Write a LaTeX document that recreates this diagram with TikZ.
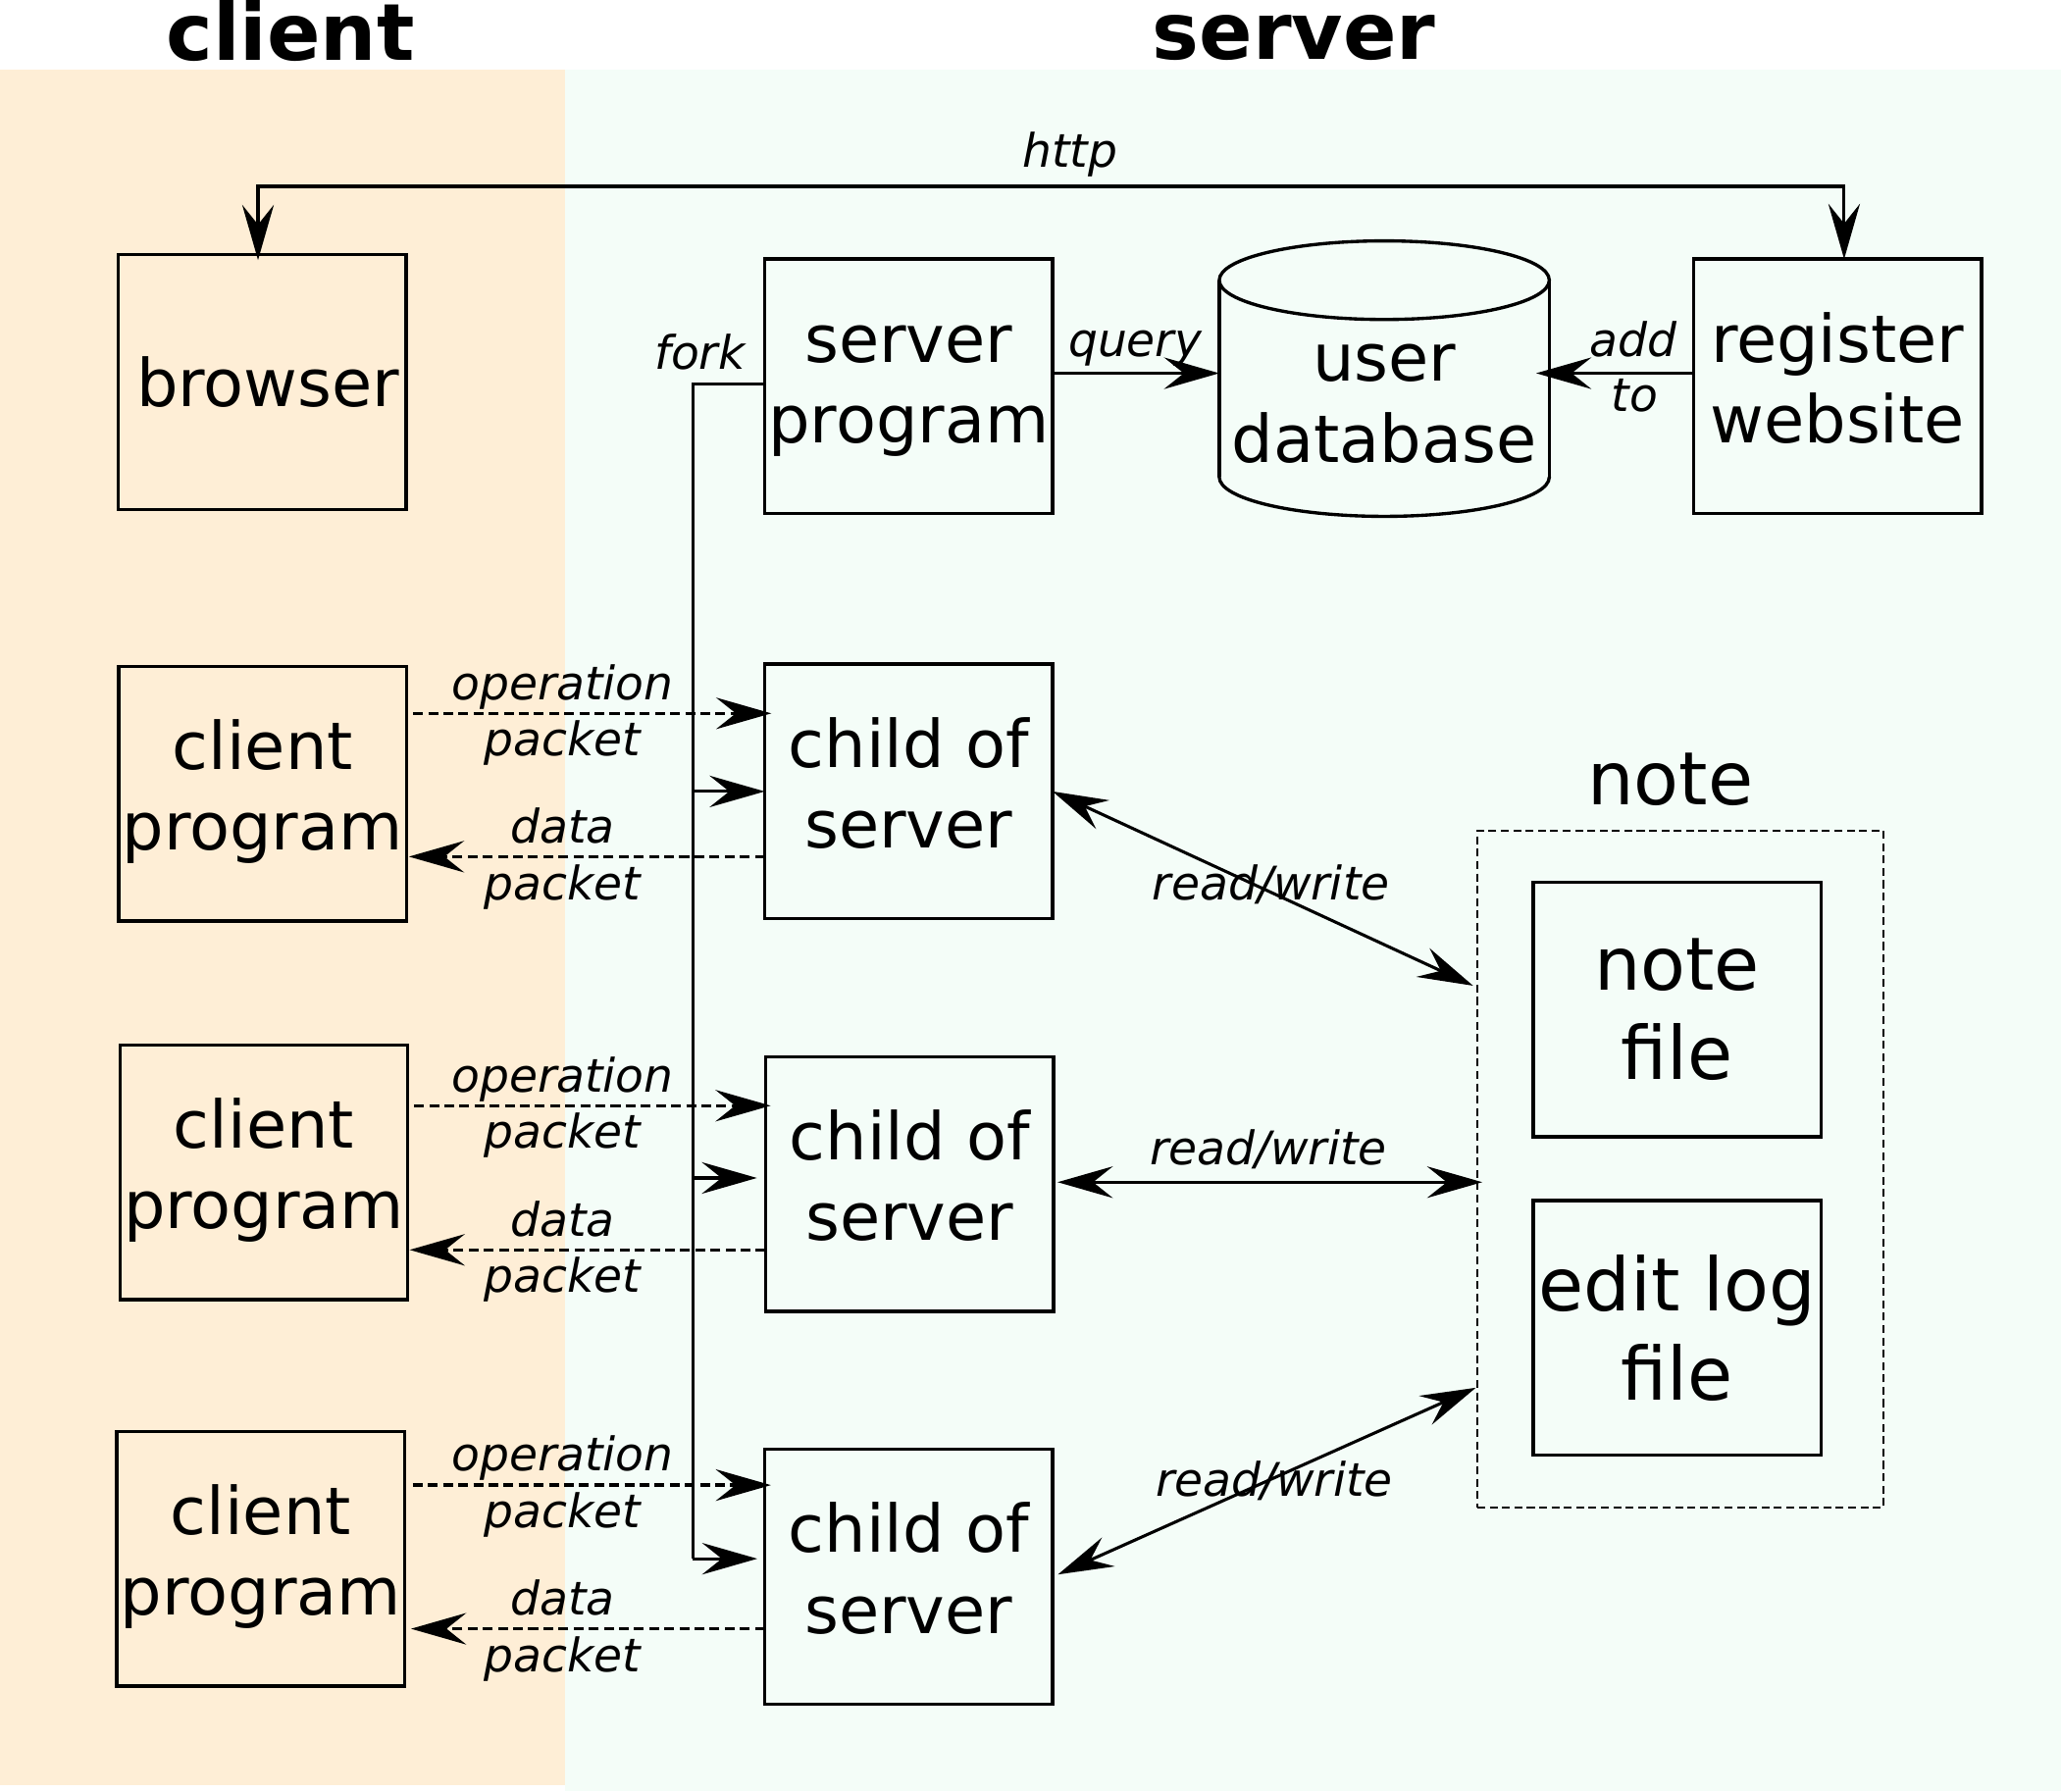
\documentclass[tikz,border=0pt]{standalone}
\usepackage{fontspec}
\setmainfont{DejaVu Sans}
\usetikzlibrary{arrows.meta,calc}
\definecolor{clientbg}{HTML}{FEEED6}
\definecolor{serverbg}{HTML}{F4FDF8}
\tikzset{
  box/.style={draw, line width=1.25pt, rectangle, inner sep=0pt, outer sep=0pt,
    minimum width=109.5pt, minimum height=96.9pt, align=center,
    font=\fontsize{25}{30.75}\selectfont},
  notebox/.style={box, font=\fontsize{28}{33.75}\selectfont},
  dbtext/.style={inner sep=0pt, align=center, font=\fontsize{25}{30.75}\selectfont},
  bigtext/.style={inner sep=0pt, anchor=base, font=\fontsize{28}{33.75}\selectfont},
  lbl/.style={inner sep=0pt, anchor=base, font=\fontsize{17.6}{21}\selectfont\itshape},
  title/.style={inner sep=0pt, anchor=base, font=\fontsize{30}{36}\selectfont\bfseries},
  conn/.style={line width=1.15pt},
  dconn/.style={line width=1.25pt, dash pattern=on 3.75pt off 2pt},
  groupbox/.style={draw, line width=0.85pt, dash pattern=on 3pt off 1.7pt, rectangle,
    inner sep=0pt, outer sep=0pt, minimum width=154.5pt, minimum height=257.5pt},
}
\begin{document}
\begin{tikzpicture}[x=0.5pt,y=-0.5pt,>={Stealth[length=21pt,width=12pt,inset=7.5pt]}]
\useasboundingbox (0,0) rectangle (1568,1362.8);
\fill[clientbg] (0,53) rectangle (430,1358);
\fill[serverbg] (430,53) rectangle (1568,1362.8);

% titles
\node[title] (tclient) at (221,45.9) {client};
\node[title] (tserver) at (984.5,45.3) {server};

% top row
\node[box] (browser) at (199.5,290.8) {\hspace*{4.5pt}browser};
\node[box] (sp) at (691.35,294) {\strut server\\\strut program};
\node[box] (reg) at (1398,294) {\strut register\\\strut website};

% user database cylinder
\draw[conn,line width=1.25pt] (1053.15,213.2) ellipse [x radius=125.55, y radius=29.9];
\draw[conn,line width=1.25pt] (927.6,213.2) -- (927.6,363);
\draw[conn,line width=1.25pt] (1178.7,213.2) -- (1178.7,363);
\begin{scope}
  \clip (900,363) rectangle (1210,410);
  \draw[conn,line width=1.25pt] (1053.15,363) ellipse [x radius=125.55, y radius=29.9];
\end{scope}
\node[dbtext] (db) at (1053.15,307.2) {user\\database};
\coordinate (dbw) at (927.6,284);
\coordinate (dbe) at (1178.7,284);

% client programs and children
\node[box] (cp1) at (199.8,604) {\strut client\\\strut program};
\node[box] (cp2) at (200.75,892) {\strut client\\\strut program};
\node[box] (cp3) at (198.4,1186) {\strut client\\\strut program};
\node[box] (cs1) at (691.3,602.2) {\strut child of\\\strut server};
\node[box] (cs2) at (692,900.9) {\strut child of\\\strut server};
\node[box] (cs3) at (691.35,1199.8) {\strut child of\\\strut server};

% note group
\node[groupbox] (nt) at (1278.5,889.5) {};
\node[bigtext] (ntl) at (1270.7,612) {note};
\node[notebox] (nf) at (1275.85,768) {note\\file};
\node[notebox] (el) at (1275.85,1010.4) {edit log\\file};

% http
\coordinate (hy) at (800,141.8);
\draw[conn,<->,shorten <=-2pt] ([xshift=-1.6pt]browser.north) |- (hy) -| ([xshift=2.5pt]reg.north);
\node[lbl] (lhttp) at (814,127.4) {http};

% query / add to
\draw[conn,->] (sp.east |- dbw) -- (dbw);
\node[lbl] (lquery) at (863.6,271) {query};
\draw[conn,->,shorten >=-5pt] (reg.west |- dbe) -- (dbe);
\node[lbl] (ladd) at (1242.5,271) {add};
\node[lbl] (lto) at (1243.5,313) {to};

% fork
\coordinate (fb1) at (527,602.2);
\coordinate (fb2) at (527,896.3);
\coordinate (fb3) at (527,1186);
\draw[conn] ([yshift=1pt]sp.west) -| (fb3);
\draw[conn,->] (fb1) -- (cs1.west |- fb1);
\draw[conn,->,shorten >=3.3pt] (fb2) -- (cs2.west |- fb2);
\draw[conn,->,shorten >=2.85pt] (fb3) -- (cs3.west |- fb3);
\node[lbl] (lfork) at (532.5,281) {fork};

% packets
\coordinate (op1) at (0,542.8);
\coordinate (da1) at (0,651.8);
\coordinate (op2) at (0,841.3);
\coordinate (da2) at (0,951);
\coordinate (op3) at (0,1130);
\coordinate (da3) at (0,1239.3);
\draw[dconn,->,shorten <=2.5pt,shorten >=-2.5pt] (cp1.east |- op1) -- (cs1.west |- op1);
\draw[dconn,->,shorten >=0.9pt] (cs1.west |- da1) -- (cp1.east |- da1);
\draw[dconn,->,shorten <=2.4pt,shorten >=-1.9pt] (cp2.east |- op2) -- (cs2.west |- op2);
\draw[dconn,->,shorten >=0.7pt] (cs2.west |- da2) -- (cp2.east |- da2);
\draw[dconn,->,shorten <=3.1pt,shorten >=-2.35pt] (cp3.east |- op3) -- (cs3.west |- op3);
\draw[dconn,->,shorten >=2.4pt] (cs3.west |- da3) -- (cp3.east |- da3);

\node[lbl] (lop1) at (428,532.2) {operation};
\node[lbl] (lpk1) at (428,574.8) {packet};
\node[lbl] (lda1) at (428,641.2) {data};
\node[lbl] (lpd1) at (428,684.4) {packet};
\node[lbl] (lop2) at (428,830.7) {operation};
\node[lbl] (lpk2) at (428,873.3) {packet};
\node[lbl] (lda2) at (428,940.4) {data};
\node[lbl] (lpd2) at (428,983.6) {packet};
\node[lbl] (lop3) at (428,1119.4) {operation};
\node[lbl] (lpk3) at (428,1162.0) {packet};
\node[lbl] (lda3) at (428,1228.7) {data};
\node[lbl] (lpd3) at (428,1271.9) {packet};

% read/write
\coordinate (rw1) at (1120.7,750);
\coordinate (rw2) at (1127.7,899.5);
\coordinate (rw3) at (1122.8,1055.9);
\draw[conn,<->] (cs1.east) -- (rw1);
\draw[conn,<->,shorten <=1.55pt] (cs2.east |- rw2) -- (rw2);
\draw[conn,<->,shorten <=2.2pt] (cs3.east) -- (rw3);
\node[lbl] (lrw1) at (967,684.6) {read/write};
\node[lbl] (lrw2) at (965,886) {read/write};
\node[lbl] (lrw3) at (969.5,1138.5) {read/write};
\end{tikzpicture}
\end{document}
